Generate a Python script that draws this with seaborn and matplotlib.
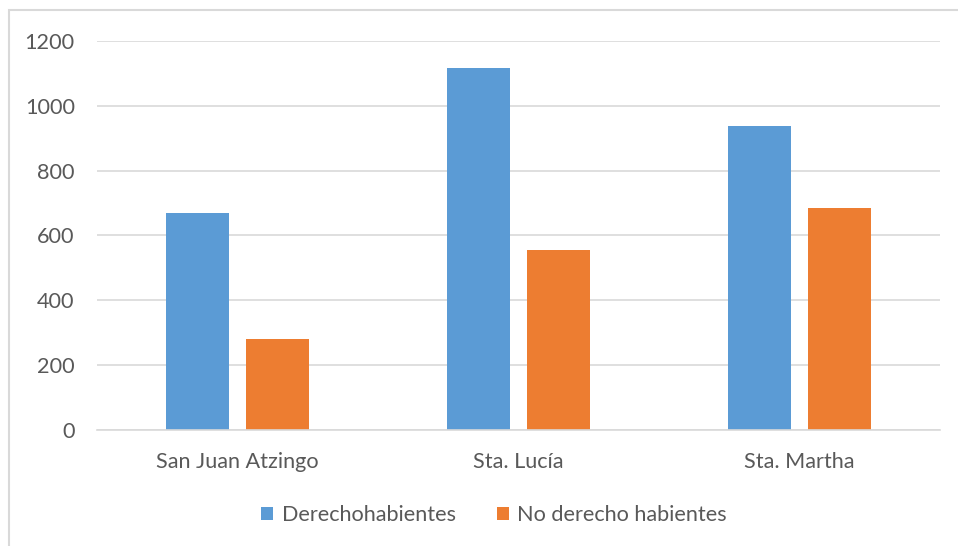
import matplotlib
matplotlib.use("Agg")
import matplotlib.pyplot as plt
import seaborn as sns
import pandas as pd
from matplotlib.patches import Rectangle

categories = ["San Juan Atzingo", "Sta. Lucía", "Sta. Martha"]
derecho = [668, 1117, 937]
no_derecho = [280, 555, 684]
series_names = ["Derechohabientes", "No derecho habientes"]
yticks = [0, 200, 400, 600, 800, 1000, 1200]

df = pd.DataFrame({
    "cat": categories * 2,
    "val": derecho + no_derecho,
    "serie": [series_names[0]] * 3 + [series_names[1]] * 3,
})

sns.set_theme(style="white")
plt.rcParams["font.family"] = ["Lato", "DejaVu Sans"]

FS = 15.6
W, H = 958, 546
fig = plt.figure(figsize=(W / 100, H / 100), dpi=100)
ax = fig.add_axes([97 / W, 1 - 430 / H, (940 - 97) / W, (430 - 41) / H])

sns.barplot(data=df, x="cat", y="val", hue="serie", order=categories,
            hue_order=series_names, palette=["#5B9BD5", "#ED7D31"],
            width=0.57, gap=0.214, ax=ax, legend=True, saturation=1,
            edgecolor="none")

ax.set_ylim(0, 1200)
ax.set_xlim(-0.5, 2.5)
ax.set_yticks(yticks)
ax.set_yticklabels([str(t) for t in yticks])
ax.yaxis.grid(True, color="#d9d9d9", linewidth=1.2)
ax.set_axisbelow(True)
for s in ["top", "right", "left"]:
    ax.spines[s].set_visible(False)
ax.spines["bottom"].set_color("#d9d9d9")
ax.spines["bottom"].set_linewidth(1.2)
ax.tick_params(axis="both", length=0, colors="#595959", labelsize=FS)
ax.tick_params(axis="y", pad=16)
ax.tick_params(axis="x", pad=16)
ax.set_xlabel("")
ax.set_ylabel("")

leg = ax.legend(loc="center", bbox_to_anchor=(494 / W, 1 - 515 / H),
                bbox_transform=fig.transFigure, ncol=2, frameon=False,
                fontsize=FS, handlelength=0.55, handleheight=0.55,
                handletextpad=0.38, columnspacing=1.9)
for t in leg.get_texts():
    t.set_color("#595959")

fig.patches.append(Rectangle((9 / W, -0.01), 1.02, 1 - 10 / H + 0.01,
                             transform=fig.transFigure, fill=False,
                             edgecolor="#d9d9d9", linewidth=1.5))

fig.savefig("out.png", dpi=100)
